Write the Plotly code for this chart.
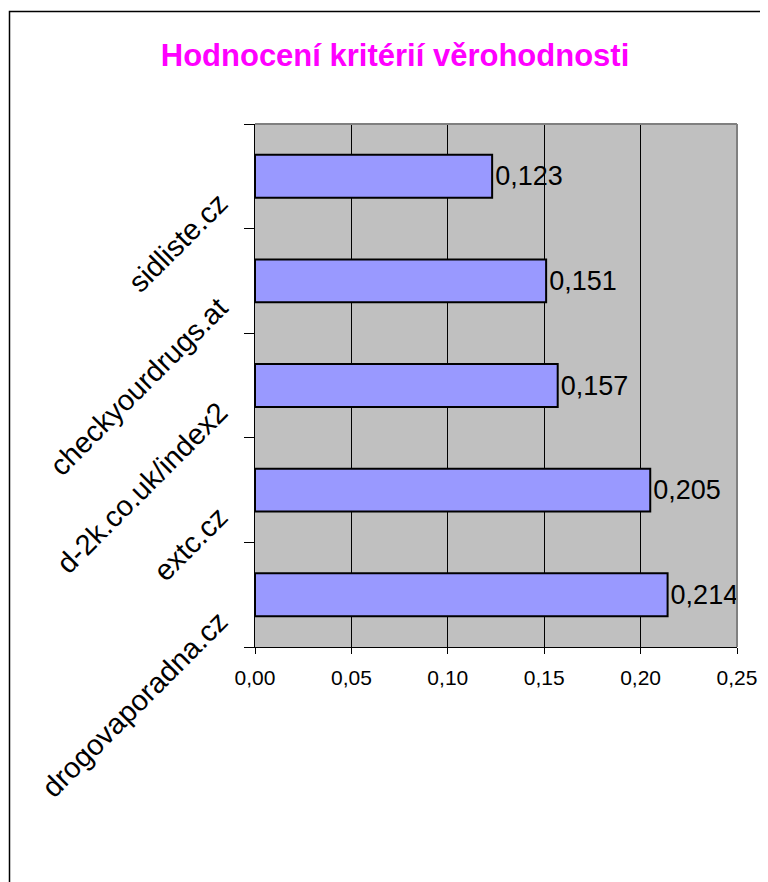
import plotly.graph_objects as go

categories = ["drogovaporadna.cz", "extc.cz", "d-2k.co.uk/index2", "checkyourdrugs.at", "sidliste.cz"]
values = [0.214, 0.205, 0.157, 0.151, 0.123]
x_ticks = [0.00, 0.05, 0.10, 0.15, 0.20, 0.25]

FONT = "Arial, Liberation Sans, sans-serif"

# the page body adds an 8px offset, so the figure is drawn 8px smaller
OFF = 8
W, H = 768 - OFF, 882 - OFF
L, T = 255 - OFF, 124 - OFF
PR, PB = 737 - OFF, 647 - OFF
R, B = W - PR, H - PB
pw, ph = PR - L, PB - T


def px_x(px):
    return (px - OFF - L) / pw


def px_y(py):
    return (PB - (py - OFF)) / ph


fig = go.Figure()
fig.add_trace(go.Bar(
    y=categories, x=values, orientation="h",
    marker=dict(color="#9999FF", line=dict(color="black", width=2)),
    width=0.41,
    text=values, texttemplate="%{x:.3f}", textposition="outside",
    textfont=dict(family=FONT, size=27, color="black"),
    cliponaxis=False,
))

fig.update_layout(
    width=W, height=H,
    margin=dict(l=L, r=R, t=T, b=B),
    paper_bgcolor="white", plot_bgcolor="#C0C0C0",
    separators=", ",
    showlegend=False,
    title=dict(text="<b>Hodnocení kritérií věrohodnosti</b>",
               font=dict(family=FONT, size=31, color="#FF00FF"),
               x=(395 - OFF) / W, xanchor="center", xref="container",
               y=1 - (55 - OFF) / H, yanchor="middle", yref="container"),
    xaxis=dict(range=[0, 0.25], tickvals=x_ticks, tickformat=".2f",
               showgrid=True, gridcolor="black", gridwidth=1,
               showline=True, linecolor="black", linewidth=1,
               ticks="outside", ticklen=6, tickcolor="black",
               ticklabelstandoff=6,
               tickfont=dict(family=FONT, size=21, color="black"),
               zeroline=False),
    yaxis=dict(tickangle=-45, tickson="boundaries",
               showline=True, linecolor="black", linewidth=1,
               ticks="outside", ticklen=10, tickcolor="black",
               ticklabelstandoff=29, ticklabelshift=23,
               showgrid=False,
               tickfont=dict(family=FONT, size=29, color="black")),
    shapes=[
        dict(type="line", xref="paper", yref="paper", x0=0, x1=1, y0=1, y1=1,
             line=dict(color="#808080", width=2)),
        dict(type="line", xref="paper", yref="paper", x0=1, x1=1, y0=0, y1=1,
             line=dict(color="#808080", width=2)),
        dict(type="rect", xref="paper", yref="paper",
             x0=px_x(9.5), x1=px_x(775), y0=px_y(11.5), y1=px_y(890),
             line=dict(color="black", width=1.5)),
    ],
)

fig.write_html("out.html")
